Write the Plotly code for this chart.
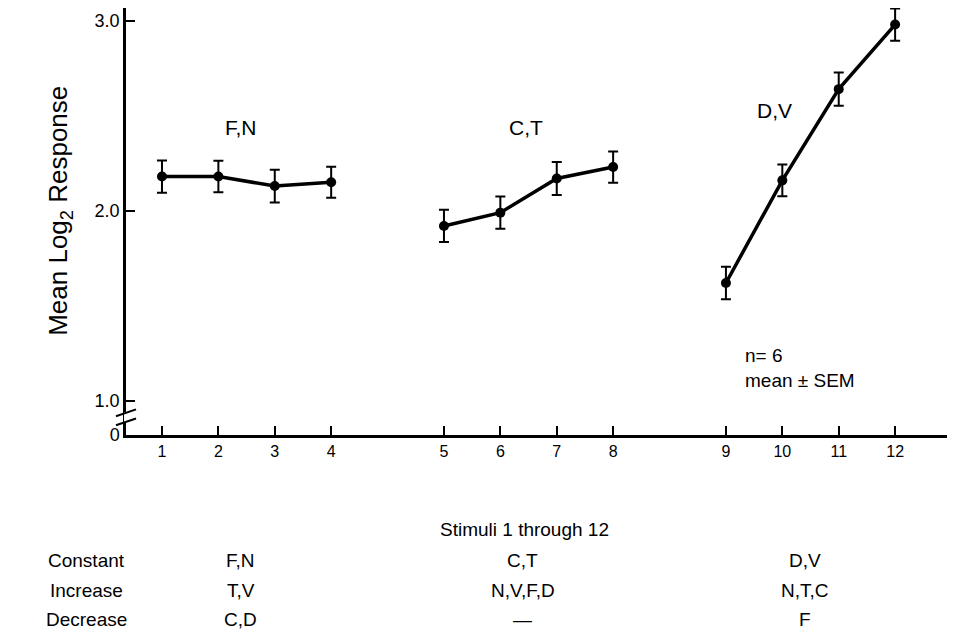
import plotly.graph_objects as go

# ---- data ----
group_labels = ["F,N", "C,T", "D,V"]
stimuli = [[1, 2, 3, 4], [5, 6, 7, 8], [9, 10, 11, 12]]
means = [[2.18, 2.18, 2.13, 2.15],
         [1.92, 1.99, 2.17, 2.23],
         [1.62, 2.16, 2.64, 2.98]]
sems = [[0.085, 0.083, 0.086, 0.082],
        [0.085, 0.085, 0.087, 0.082],
        [0.085, 0.084, 0.088, 0.085]]
y_tick_vals = [1.0, 2.0, 3.0]
y_tick_text = ["1.0", "2.0", "3.0"]
row_names = ["Constant", "Increase", "Decrease"]
table_rows = [["F,N", "C,T", "D,V"],
              ["T,V", "N,V,F,D", "N,T,C"],
              ["C,D", "\u2014", "F"]]
GAP = 2          # spacing step between stimulus groups (one blank slot)
Y_BOTTOM = 0.82  # axis-break floor, labelled "0"

FONT = "Liberation Sans, Arial, Helvetica, sans-serif"
BLACK = "black"

fig = go.Figure()
all_x, all_text = [], []
for g, (st, m, s) in enumerate(zip(stimuli, means, sems)):
    xs = [v + g * (GAP - 1) for v in st]
    all_x += xs
    all_text += [str(v) for v in st]
    fig.add_trace(go.Scatter(
        x=xs, y=m, mode="lines+markers", cliponaxis=False,
        line=dict(color=BLACK, width=3.5),
        marker=dict(color=BLACK, size=10),
        error_y=dict(type="data", array=s, visible=True, color=BLACK,
                     thickness=2, width=5),
        showlegend=False, hoverinfo="skip"))

centers = [sum(v + g * (GAP - 1) for v in st) / len(st) for g, st in enumerate(stimuli)]

# group labels above the curves
label_pos = [(-0.1, 2.44), (-0.05, 2.44), (-0.63, 2.53)]
for c, lab, (dx, ly) in zip(centers, group_labels, label_pos):
    fig.add_annotation(x=c + dx, y=ly, text=lab, showarrow=False,
                       xanchor="center", yanchor="middle",
                       font=dict(size=21, color=BLACK, family=FONT))

fig.add_annotation(x=centers[2] - 1.19, y=1.175, xanchor="left", yanchor="middle",
                   text="n= 6<br>mean \u00b1 SEM", showarrow=False, align="left",
                   font=dict(size=19, color=BLACK, family=FONT))

# y-axis title (as a rotated annotation)
fig.add_annotation(xref="paper", yref="paper", x=-0.0804, y=0.525,
                   text="Mean Log<sub>2</sub> Response", textangle=-90,
                   xanchor="center", yanchor="middle", showarrow=False,
                   font=dict(size=26, color=BLACK, family=FONT))

# bottom table (paper y below the plot)
fig.add_annotation(xref="x", yref="paper", x=centers[1] - 0.08, y=-0.222,
                   xanchor="center", yanchor="middle",
                   text="Stimuli 1 through 12", showarrow=False,
                   font=dict(size=19, color=BLACK, family=FONT))
row_y = [-0.295, -0.365, -0.432]
for ry, name, cells in zip(row_y, row_names, table_rows):
    fig.add_annotation(xref="paper", yref="paper", x=-0.0487, y=ry, text=name,
                       xanchor="center", yanchor="middle", showarrow=False,
                       font=dict(size=19, color=BLACK, family=FONT))
    for c, cell in zip(centers, cells):
        fig.add_annotation(xref="x", yref="paper", x=c - 0.1, y=ry, text=cell,
                           xanchor="center", yanchor="middle", showarrow=False,
                           font=dict(size=19, color=BLACK, family=FONT))

# axis break marks on the y axis
fig.add_shape(type="line", xref="paper", yref="y", x0=0, x1=0, y0=0.885, y1=0.94,
              line=dict(color="white", width=4))
for yb in [0.889, 0.937]:
    fig.add_shape(type="line", xref="paper", yref="y", x0=-0.0122, x1=0.0122,
                  y0=yb - 0.018, y1=yb + 0.018, line=dict(color=BLACK, width=2))

fig.update_xaxes(range=[0.362, 14.92], tickvals=all_x, ticktext=all_text,
                 ticks="inside", ticklen=9, tickwidth=2, tickcolor=BLACK,
                 showline=True, linecolor=BLACK, linewidth=2.5,
                 showgrid=False, zeroline=False,
                 tickfont=dict(size=16, color=BLACK, family=FONT))
fig.update_yaxes(range=[Y_BOTTOM, 3.067],
                 tickvals=[Y_BOTTOM] + y_tick_vals, ticktext=["0"] + y_tick_text,
                 ticks="inside", ticklen=9, tickwidth=2, tickcolor=BLACK,
                 showline=True, linecolor=BLACK, linewidth=2.5,
                 showgrid=False, zeroline=False,
                 tickfont=dict(size=18, color=BLACK, family=FONT))

# 939x621 plus the page's 8px body margin fills the 955x637 window exactly
fig.update_layout(width=939, height=621,
                  margin=dict(l=118, r=0, t=0, b=194, autoexpand=False),
                  plot_bgcolor="white", paper_bgcolor="white")

fig.write_html("out.html")
